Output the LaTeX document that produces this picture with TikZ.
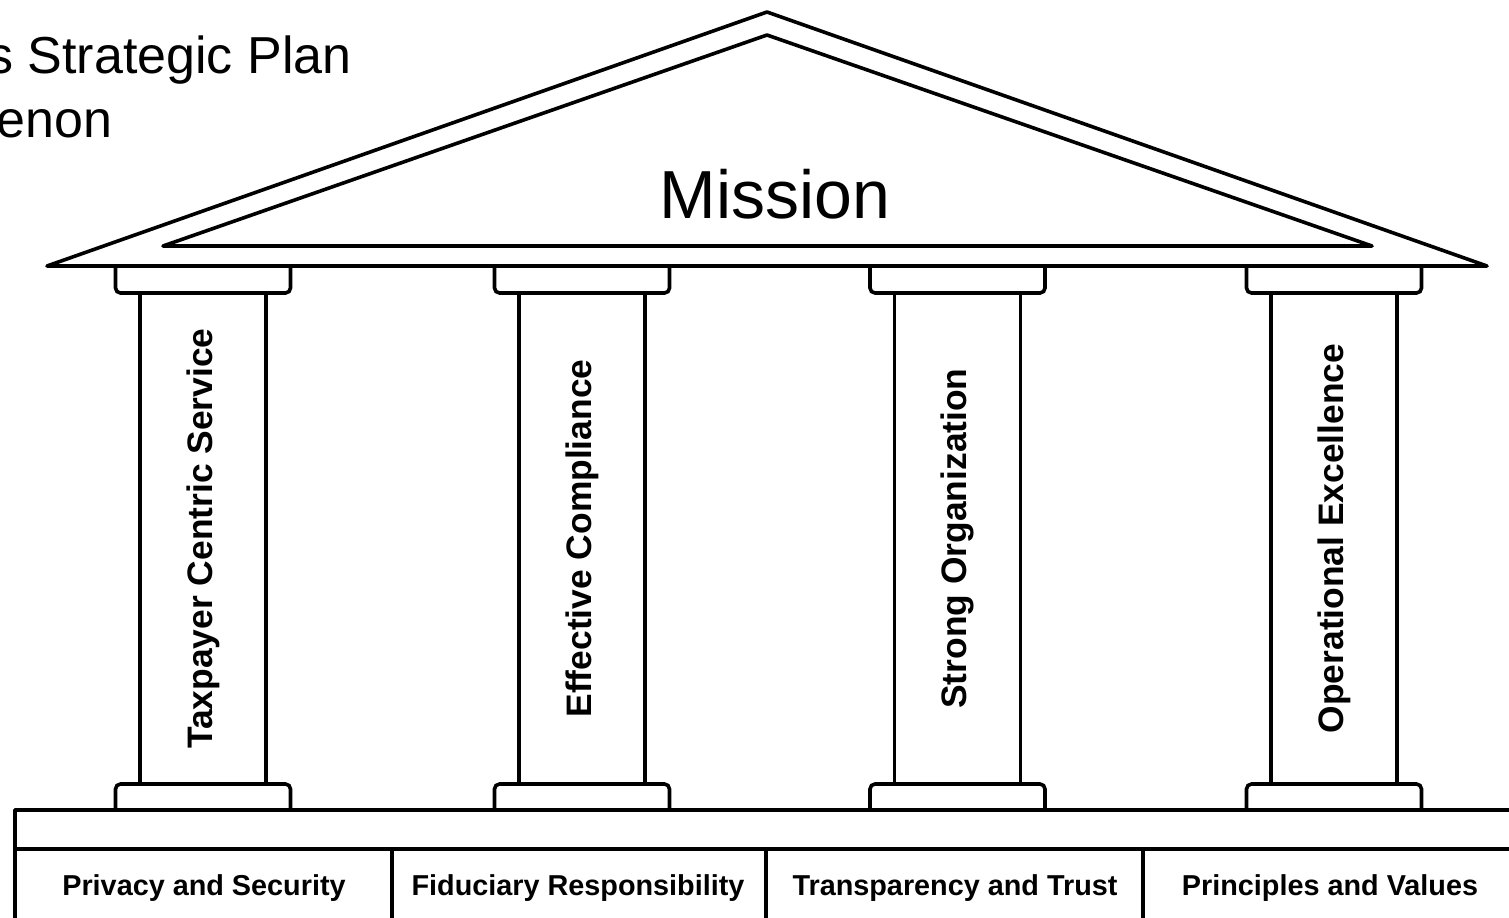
\documentclass[tikz,border=0pt]{standalone}
\usepackage{fontspec}
\setmainfont{Liberation Sans}
\usetikzlibrary{positioning}
\tikzset {
  outline/.style = {draw, line width=1.8pt, line join=round},
  capline/.style = {draw, line width=1.8pt, rounded corners=2.5pt},
  pillartext/.style = {rotate=90, inner sep=0, font=\bfseries\fontsize{17.7}{20}\selectfont},
  basetext/.style = {anchor=base, inner sep=0, font=\bfseries\fontsize{14.4}{17}\selectfont},
  title/.style = {anchor=base west, inner sep=0, font=\fontsize{26}{30}\selectfont}
}

\begin{document}
\begin{tikzpicture}[x=0.5pt, y=-0.5pt]
    \useasboundingbox (0,0) rectangle (1509,917);
    \clip (0,0) rectangle (1509,917);

    \node[title] (titleone) at (-13,73) {s Strategic Plan};
    \node[title] (titletwo) at (-4,137) {enon};

    % roof
    \draw[outline] (47,266) -- (767,12) -- (1487,266) -- cycle;
    \draw[outline] (163,246) -- (767,35) -- (1372,246) -- cycle;
    \node[anchor=base, inner sep=0, font=\fontsize{34}{40}\selectfont] (mission) at (775,218) {Mission};

    % pillars
    \foreach \cx/\pname/\ptext in {203/taxpayer/Taxpayer Centric Service,
                                   582/compliance/Effective Compliance,
                                   957.5/organization/Strong Organization,
                                   1334/excellence/Operational Excellence} {
        \draw[capline] (\cx-87.5,266) -- (\cx-87.5,293) -- (\cx+87.5,293) -- (\cx+87.5,266);
        \draw[outline] (\cx-63,293) -- (\cx-63,784);
        \draw[outline] (\cx+63,293) -- (\cx+63,784);
        \draw[capline] (\cx-87.5,810) -- (\cx-87.5,784) -- (\cx+87.5,784) -- (\cx+87.5,810);
        \node[pillartext] (\pname) at (\cx,538.5) {\ptext};
    }

    % foundation
    \draw[outline] (1530,810) -- (15,810) -- (15,930);
    \draw[outline] (15,849) -- (1530,849);
    \foreach \dx in {392, 766, 1143}
        \draw[outline] (\dx,849) -- (\dx,930);

    \node[basetext] (privacy) at (204,895) {Privacy and Security};
    \node[basetext] (fiduciary) at (578,895) {Fiduciary Responsibility};
    \node[basetext] (transparency) at (955,895) {Transparency and Trust};
    \node[basetext] (principles) at (1330,895) {Principles and Values};

\end{tikzpicture}
\end{document}
